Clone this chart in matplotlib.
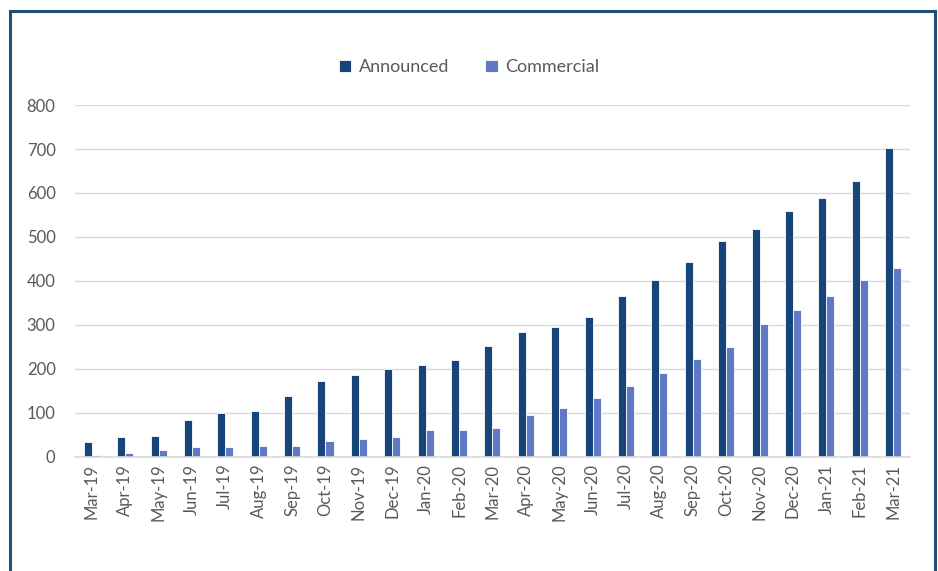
import matplotlib

matplotlib.use("Agg")
import matplotlib.pyplot as plt
import numpy as np
from matplotlib.patches import Rectangle

months = ["Mar-19", "Apr-19", "May-19", "Jun-19", "Jul-19", "Aug-19", "Sep-19",
          "Oct-19", "Nov-19", "Dec-19", "Jan-20", "Feb-20", "Mar-20", "Apr-20",
          "May-20", "Jun-20", "Jul-20", "Aug-20", "Sep-20", "Oct-20", "Nov-20",
          "Dec-20", "Jan-21", "Feb-21", "Mar-21"]
announced = [33, 45, 47, 84, 100, 105, 139, 173, 186, 200, 209, 220, 252, 284,
             295, 318, 366, 402, 443, 491, 518, 559, 589, 627, 702]
commercial = [3, 8, 15, 22, 22, 24, 24, 37, 41, 46, 60, 62, 66, 95,
              112, 134, 162, 190, 222, 250, 303, 335, 365, 403, 430]
yticks = [0, 100, 200, 300, 400, 500, 600, 700, 800]

DARK = "#17457a"
LIGHT = "#6079c4"
TEXT = "#595959"

plt.rcParams["font.family"] = ["Lato", "DejaVu Sans"]

fig = plt.figure(figsize=(9.38, 5.71), dpi=100)
ax = fig.add_axes([0.080, 0.200, 0.890, 0.616])

x = np.arange(len(months))
w = 0.24
ax.bar(x - w / 2, announced, w, color=DARK, edgecolor="white", linewidth=0.6, label="Announced")
ax.bar(x + w / 2, commercial, w, color=LIGHT, edgecolor="white", linewidth=0.6, label="Commercial")

ax.set_xlim(-0.5, len(months) - 0.5)
ax.set_ylim(0, 800)
ax.set_yticks(yticks)
ax.set_xticks(x)
ax.set_xticklabels(months, rotation=90)
ax.tick_params(axis="both", length=0, colors=TEXT, labelsize=12)
ax.tick_params(axis="y", pad=14)
ax.tick_params(axis="x", pad=5)
ax.grid(axis="y", color="#d9d9d9", linewidth=1)
ax.set_axisbelow(True)
for s in ["top", "right", "left"]:
    ax.spines[s].set_visible(False)
ax.spines["bottom"].set_color("#d9d9d9")
ax.spines["bottom"].set_linewidth(1.2)

fig.legend(loc="center", bbox_to_anchor=(0.5, 0.882), ncol=2, frameon=False,
           fontsize=13, labelcolor=TEXT, handlelength=0.7, handleheight=0.7,
           handletextpad=0.4, columnspacing=2.0)

# outer frame, open at the bottom of the picture
fig.patches.append(Rectangle((10 / 938, -0.05), 925 / 938, 1.05 - 11 / 571,
                             transform=fig.transFigure, fill=False,
                             edgecolor="#1f4e79", linewidth=2.2))

fig.savefig("out.png", dpi=100)
